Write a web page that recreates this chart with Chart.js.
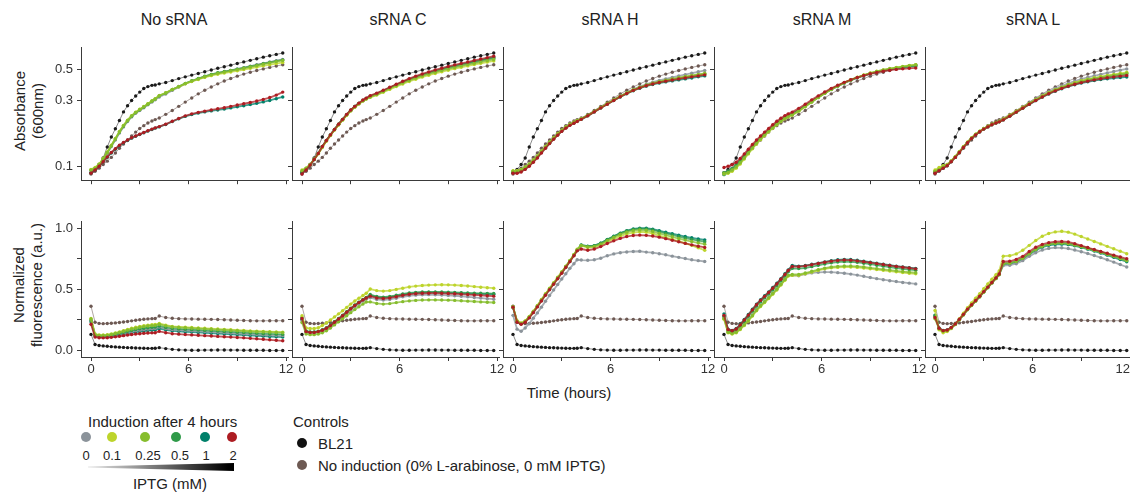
<!DOCTYPE html>
<html>
<head>
<meta charset="utf-8">
<script src="https://cdn.jsdelivr.net/npm/chart.js@4.4.1/dist/chart.umd.min.js"></script>
<style>
  html, body { margin: 0; padding: 0; width: 1130px; height: 492px; overflow: hidden; background: #fff; }
  body { position: relative; font-family: "Liberation Sans", Arial, sans-serif; color: #222; }
  canvas { position: absolute; }
  .t { position: absolute; white-space: nowrap; }
  .title { font-size: 16px; line-height: 16px; transform: translateX(-50%); }
  .ytitle { font-size: 15px; line-height: 18px; text-align: center; transform: translate(-50%, -50%) rotate(-90deg); }
  .lg { font-size: 15px; line-height: 15px; }
  .lv { font-size: 13px; line-height: 13px; transform: translateX(-50%); }
  .dot { position: absolute; width: 10px; height: 10px; border-radius: 50%; }
  .wedge { position: absolute; left: 88px; top: 463px; width: 146px; height: 8px;
           background: linear-gradient(to right, #e6e6e6, #000 96%);
           clip-path: polygon(0 44%, 100% 0, 100% 100%, 0 56%); }
</style>
</head>
<body>

<div class="t title" style="left:174px; top:12px">No sRNA</div>
<div class="t title" style="left:398px; top:12px">sRNA C</div>
<div class="t title" style="left:610px; top:12px">sRNA H</div>
<div class="t title" style="left:822px; top:12px">sRNA M</div>
<div class="t title" style="left:1033px; top:12px">sRNA L</div>

<div class="t ytitle" style="left:29px; top:111px">Absorbance<br>(600nm)</div>
<div class="t ytitle" style="left:28px; top:285px">Normalized<br>fluorescence (a.u.)</div>
<div class="t lg" style="left:569px; top:385px; transform:translateX(-50%)">Time (hours)</div>

<div class="t lg" style="left:88px; top:414px">Induction after 4 hours</div>
<div id="iptgDots"></div>
<div class="wedge"></div>
<div class="t lg" style="left:170px; top:476px; transform:translateX(-50%)">IPTG (mM)</div>

<div class="t lg" style="left:293px; top:414px">Controls</div>
<div class="dot" style="left:297px; top:438px; background:#111"></div>
<div class="t lg" style="left:318px; top:436px">BL21</div>
<div class="dot" style="left:297px; top:460px; background:#6d5953"></div>
<div class="t lg" style="left:318px; top:458px">No induction (0% L-arabinose, 0 mM IPTG)</div>

<script>
// ---- categories ----
const PANELS = ['No sRNA', 'sRNA C', 'sRNA H', 'sRNA M', 'sRNA L'];
const IPTG_LEVELS = ['0', '0.1', '0.25', '0.5', '1', '2'];
const IPTG_COLORS = ['#8b939a', '#bdd42b', '#86bd2d', '#2f9a49', '#00806a', '#ad1c22'];
const BL21_COLOR = '#1a1a1a';
const NOIND_COLOR = '#6d5953';

// ---- axis ticks ----
const X_TICKS = [0, 3, 6, 9, 12];
const X_LABELS = [0, 6, 12];
const OD_TICKS = [0.1, 0.3, 0.5];
const FL_TICKS = [0, 0.25, 0.5, 0.75, 1];
const FL_LABELS = { 0: '0.0', 0.5: '0.5', 1: '1.0' };

// ---- sampling times (hours); induction break between 3.95 h and 4.2 h ----
const TIME_H = [0,.25,.5,.75,1,1.25,1.5,1.75,2,2.25,2.5,2.75,3,3.25,3.5,3.75,3.95,
  4.2,4.6,5,5.4,5.8,6.2,6.6,7,7.4,7.8,8.2,8.6,9,9.4,9.8,10.2,10.6,11,11.4,11.8];

// ---- controls (same strains in every panel) ----
const BL21_OD = [.090,.095,.103,.115,.138,.163,.187,.215,.248,.275,.300,.323,.345,.366,.378,.386,.388,
  .396,.405,.418,.432,.445,.458,.471,.485,.499,.513,.527,.541,.556,.571,.586,.602,.618,.633,.647,.662];
const NOIND_OD = [.088,.092,.097,.103,.109,.116,.125,.135,.145,.155,.166,.177,.188,.197,.206,.213,.218,
  .224,.238,.254,.272,.292,.313,.335,.356,.376,.396,.415,.433,.450,.466,.481,.495,.508,.521,.533,.545];
const BL21_FL = [.132,.050,.042,.038,.035,.032,.030,.028,.026,.024,.023,.021,.020,.019,.018,.018,.019,
  .024,.016,.010,.006,.004,.003,.003,.004,.004,.005,.005,.004,.004,.003,.003,.002,.002,.001,.001,.001];
const NOIND_FL = [.362,.232,.222,.220,.221,.223,.226,.230,.234,.238,.243,.248,.252,.256,.259,.261,.262,
  .282,.270,.264,.261,.259,.258,.257,.256,.255,.254,.252,.250,.248,.246,.244,.243,.243,.244,.244,.244];

// ---- absorbance, one row per IPTG level (0, 0.1, 0.25, 0.5, 1, 2 mM) ----
const OD_NO_SRNA = [
  [.093,.096,.102,.112,.124,.139,.155,.174,.193,.211,.228,.242,.254,.266,.279,.292,.303,.318,.334,.355,.375,.396,.414,.430,.446,.461,.474,.485,.496,.507,.519,.531,.544,.557,.570,.583,.595],
  [.095,.098,.104,.114,.127,.142,.159,.179,.198,.216,.233,.247,.259,.271,.284,.298,.309,.326,.341,.360,.377,.396,.412,.426,.441,.454,.465,.474,.483,.492,.502,.513,.524,.535,.545,.555,.566],
  [.094,.097,.103,.113,.126,.141,.158,.178,.197,.215,.232,.246,.258,.270,.283,.297,.308,.325,.340,.360,.378,.398,.415,.430,.446,.460,.472,.482,.492,.502,.513,.525,.537,.550,.562,.574,.585],
  [.094,.097,.103,.113,.126,.141,.158,.177,.196,.214,.231,.245,.257,.269,.282,.296,.307,.324,.340,.360,.379,.399,.417,.433,.449,.463,.476,.486,.496,.506,.517,.529,.541,.554,.566,.578,.590],
  [.089,.094,.100,.108,.116,.125,.133,.141,.148,.154,.160,.165,.170,.175,.180,.185,.189,.193,.201,.211,.221,.230,.237,.243,.248,.252,.256,.260,.265,.270,.275,.280,.286,.293,.300,.309,.318],
  [.089,.094,.100,.108,.117,.126,.134,.142,.149,.155,.161,.166,.171,.176,.181,.186,.190,.194,.202,.212,.222,.232,.240,.246,.251,.256,.261,.266,.272,.278,.284,.290,.297,.305,.315,.328,.345]
];
const OD_SRNA_C = [
  [.092,.096,.103,.113,.125,.139,.154,.169,.185,.201,.218,.236,.254,.270,.285,.299,.309,.320,.334,.351,.369,.387,.405,.423,.440,.456,.471,.486,.500,.514,.527,.540,.553,.566,.579,.592,.605],
  [.094,.097,.103,.112,.123,.137,.152,.167,.183,.199,.216,.234,.252,.268,.283,.297,.307,.316,.328,.344,.361,.378,.395,.412,.428,.443,.457,.471,.484,.497,.510,.522,.534,.546,.558,.569,.580],
  [.093,.097,.103,.113,.124,.138,.153,.168,.184,.200,.217,.235,.253,.269,.284,.298,.308,.318,.331,.348,.366,.384,.402,.419,.436,.452,.467,.481,.495,.508,.521,.534,.546,.558,.571,.583,.595],
  [.091,.095,.102,.112,.124,.139,.154,.169,.185,.202,.219,.237,.255,.271,.286,.300,.310,.322,.336,.353,.371,.390,.409,.427,.445,.461,.477,.492,.507,.521,.535,.548,.561,.575,.589,.602,.615],
  [.090,.095,.102,.112,.124,.139,.154,.169,.185,.202,.219,.237,.255,.271,.286,.300,.310,.321,.335,.352,.370,.388,.407,.425,.442,.458,.474,.489,.503,.517,.530,.543,.556,.570,.583,.597,.610],
  [.088,.094,.102,.112,.124,.139,.154,.169,.185,.202,.219,.238,.256,.272,.287,.302,.312,.325,.339,.356,.374,.393,.413,.432,.450,.467,.483,.499,.514,.529,.543,.557,.570,.585,.599,.613,.628]
];
const OD_SRNA_H = [
  [.092,.092,.094,.098,.103,.110,.118,.128,.138,.149,.160,.171,.182,.192,.201,.208,.214,.220,.233,.249,.266,.284,.303,.323,.342,.361,.378,.393,.407,.419,.430,.441,.452,.462,.473,.484,.495],
  [.093,.093,.095,.099,.104,.111,.119,.129,.139,.150,.161,.172,.183,.193,.202,.209,.215,.221,.234,.250,.267,.284,.302,.321,.339,.357,.372,.386,.398,.409,.418,.427,.436,.444,.452,.460,.468],
  [.092,.092,.094,.098,.103,.110,.118,.128,.138,.149,.160,.171,.182,.192,.201,.208,.214,.221,.234,.250,.267,.285,.303,.322,.340,.358,.374,.388,.400,.411,.421,.430,.439,.447,.456,.464,.472],
  [.091,.091,.093,.097,.102,.109,.117,.127,.137,.148,.159,.170,.181,.191,.200,.207,.213,.220,.233,.249,.266,.283,.301,.320,.338,.356,.371,.385,.397,.407,.416,.424,.433,.441,.449,.457,.466],
  [.090,.090,.092,.096,.101,.108,.116,.126,.136,.147,.158,.169,.180,.190,.199,.206,.212,.219,.232,.248,.265,.282,.300,.318,.336,.353,.368,.381,.392,.401,.409,.416,.423,.430,.437,.445,.452],
  [.089,.089,.091,.095,.100,.107,.115,.125,.135,.146,.157,.168,.179,.189,.198,.205,.211,.219,.232,.248,.265,.282,.300,.319,.337,.355,.370,.384,.395,.405,.414,.422,.430,.437,.445,.452,.460]
];
const OD_SRNA_M = [
  [.090,.092,.096,.101,.108,.117,.127,.138,.149,.160,.171,.182,.193,.204,.215,.225,.232,.238,.254,.273,.294,.316,.338,.360,.381,.401,.420,.438,.454,.469,.482,.494,.504,.513,.521,.528,.535],
  [.088,.089,.092,.097,.104,.113,.123,.134,.145,.156,.167,.178,.189,.200,.211,.221,.228,.235,.251,.270,.292,.315,.338,.361,.383,.404,.424,.442,.459,.474,.488,.500,.511,.521,.530,.538,.546],
  [.089,.090,.094,.099,.106,.115,.125,.136,.147,.158,.169,.180,.191,.202,.213,.223,.230,.236,.252,.271,.292,.315,.338,.360,.382,.403,.423,.441,.458,.473,.487,.499,.510,.519,.528,.536,.543],
  [.090,.092,.096,.102,.109,.118,.128,.139,.150,.161,.172,.183,.194,.205,.216,.226,.233,.239,.255,.274,.295,.317,.339,.361,.382,.402,.421,.439,.455,.470,.483,.495,.505,.514,.522,.529,.536],
  [.087,.090,.095,.101,.109,.118,.128,.139,.150,.161,.172,.183,.195,.206,.217,.227,.234,.240,.256,.275,.296,.318,.340,.362,.383,.403,.422,.439,.455,.469,.482,.493,.503,.512,.520,.527,.533],
  [.098,.100,.103,.107,.114,.123,.133,.144,.155,.166,.177,.188,.200,.212,.223,.233,.240,.247,.263,.282,.303,.324,.346,.367,.387,.406,.424,.440,.455,.468,.479,.489,.497,.504,.509,.513,.516]
];
const OD_SRNA_L = [
  [.091,.094,.098,.102,.109,.117,.127,.138,.149,.160,.170,.179,.187,.194,.201,.207,.211,.219,.234,.251,.269,.288,.308,.328,.347,.366,.383,.399,.414,.428,.441,.453,.464,.475,.486,.497,.508],
  [.094,.098,.101,.103,.110,.118,.128,.139,.150,.161,.171,.180,.188,.195,.202,.208,.212,.220,.235,.251,.268,.286,.305,.324,.342,.359,.375,.390,.404,.417,.428,.438,.447,.456,.464,.472,.480],
  [.092,.095,.099,.102,.109,.117,.127,.138,.149,.160,.170,.179,.187,.194,.201,.207,.211,.218,.232,.248,.265,.284,.303,.322,.340,.357,.373,.388,.401,.413,.424,.433,.442,.450,.458,.465,.472],
  [.092,.095,.099,.102,.109,.117,.127,.138,.149,.160,.170,.179,.187,.194,.201,.207,.211,.218,.232,.248,.265,.283,.302,.321,.339,.356,.372,.386,.399,.411,.421,.430,.438,.446,.453,.460,.467],
  [.090,.093,.097,.101,.108,.116,.126,.137,.148,.159,.169,.178,.186,.193,.200,.206,.210,.217,.231,.246,.263,.281,.299,.317,.334,.350,.365,.378,.390,.401,.410,.418,.425,.431,.436,.440,.444],
  [.089,.093,.097,.101,.108,.116,.126,.137,.148,.159,.169,.178,.186,.193,.200,.206,.210,.217,.231,.247,.264,.282,.300,.318,.336,.352,.367,.381,.393,.404,.414,.423,.431,.438,.444,.450,.455]
];

// ---- normalized fluorescence, one row per IPTG level ----
const FL_NO_SRNA = [
  [.245,.124,.117,.116,.118,.122,.128,.135,.142,.149,.156,.162,.167,.172,.176,.179,.181,.192,.180,.172,.168,.165,.162,.159,.156,.153,.150,.147,.144,.141,.138,.135,.132,.129,.127,.125,.123],
  [.262,.135,.128,.127,.130,.136,.144,.153,.163,.173,.182,.190,.197,.203,.208,.211,.213,.222,.208,.198,.194,.191,.188,.185,.182,.179,.176,.173,.170,.167,.164,.161,.159,.157,.155,.153,.151],
  [.258,.130,.124,.123,.126,.132,.140,.149,.158,.167,.176,.183,.190,.196,.201,.204,.206,.215,.202,.193,.189,.186,.183,.180,.177,.174,.171,.168,.165,.162,.159,.156,.154,.152,.150,.148,.146],
  [.250,.126,.120,.119,.121,.126,.133,.141,.149,.157,.165,.172,.178,.183,.187,.190,.192,.201,.189,.181,.177,.174,.171,.168,.165,.162,.159,.156,.153,.150,.147,.144,.141,.138,.136,.134,.132],
  [.236,.120,.113,.112,.113,.117,.122,.128,.134,.140,.146,.151,.156,.160,.164,.167,.169,.180,.169,.161,.157,.154,.151,.148,.145,.142,.139,.136,.133,.130,.127,.124,.121,.118,.115,.112,.110],
  [.215,.110,.105,.104,.105,.108,.112,.117,.122,.127,.131,.135,.138,.141,.143,.145,.146,.157,.146,.138,.134,.131,.128,.125,.122,.119,.116,.113,.110,.107,.104,.100,.096,.092,.088,.084,.080]
];
const FL_SRNA_C = [
  [.245,.150,.143,.143,.148,.159,.175,.197,.223,.249,.276,.304,.333,.359,.383,.405,.421,.432,.418,.413,.418,.428,.440,.448,.453,.456,.457,.456,.454,.451,.448,.444,.439,.434,.429,.424,.420],
  [.285,.185,.180,.180,.186,.205,.226,.250,.275,.300,.326,.353,.380,.405,.428,.450,.468,.503,.490,.486,.490,.500,.510,.520,.527,.532,.535,.537,.538,.537,.535,.532,.528,.523,.518,.514,.510],
  [.230,.135,.130,.130,.135,.146,.162,.184,.210,.235,.260,.285,.310,.335,.358,.380,.397,.398,.385,.380,.384,.392,.400,.406,.410,.413,.414,.414,.413,.412,.410,.407,.404,.401,.398,.395,.393],
  [.270,.160,.153,.153,.158,.170,.186,.209,.236,.262,.289,.317,.346,.372,.396,.418,.434,.458,.442,.437,.442,.452,.463,.471,.476,.479,.480,.480,.479,.477,.475,.473,.471,.469,.468,.467,.466],
  [.255,.157,.150,.150,.155,.167,.183,.206,.233,.259,.286,.314,.343,.369,.393,.415,.431,.452,.437,.432,.437,.447,.458,.466,.471,.474,.475,.475,.474,.472,.470,.468,.466,.464,.463,.462,.461],
  [.262,.155,.148,.148,.155,.166,.182,.205,.232,.258,.285,.313,.342,.368,.392,.414,.430,.445,.430,.425,.430,.440,.452,.460,.465,.468,.469,.469,.468,.466,.464,.461,.458,.455,.451,.448,.445]
];
const FL_SRNA_H = [
  [.288,.175,.158,.185,.220,.265,.308,.355,.403,.450,.495,.540,.585,.628,.672,.710,.742,.740,.738,.742,.755,.775,.790,.800,.806,.810,.812,.805,.800,.792,.783,.772,.762,.752,.742,.735,.728],
  [.355,.245,.225,.243,.279,.322,.369,.417,.464,.509,.554,.599,.644,.690,.737,.785,.828,.858,.842,.845,.862,.888,.912,.935,.953,.965,.970,.968,.957,.940,.925,.910,.895,.878,.860,.840,.820],
  [.360,.240,.222,.240,.275,.318,.365,.413,.460,.505,.550,.595,.640,.688,.735,.783,.825,.860,.848,.852,.870,.898,.925,.950,.968,.980,.985,.983,.973,.958,.944,.930,.916,.903,.891,.880,.870],
  [.358,.238,.220,.238,.273,.316,.363,.411,.458,.503,.548,.593,.638,.686,.733,.781,.823,.862,.852,.857,.877,.907,.933,.958,.977,.990,.996,.995,.986,.972,.958,.945,.932,.920,.909,.899,.890],
  [.350,.235,.218,.236,.271,.314,.361,.409,.456,.501,.546,.591,.636,.684,.731,.779,.821,.863,.853,.858,.878,.908,.935,.960,.980,.994,1.00,1.00,.992,.980,.967,.955,.943,.932,.922,.913,.905],
  [.355,.232,.215,.232,.267,.310,.357,.405,.452,.497,.542,.587,.632,.680,.727,.775,.815,.830,.820,.830,.850,.875,.897,.917,.932,.941,.944,.942,.936,.927,.915,.902,.889,.876,.864,.853,.843]
];
const FL_SRNA_M = [
  [.270,.155,.145,.155,.182,.215,.252,.292,.334,.369,.401,.434,.468,.503,.541,.580,.613,.615,.612,.625,.635,.640,.642,.641,.637,.632,.625,.617,.607,.597,.588,.579,.571,.564,.557,.551,.545],
  [.257,.145,.135,.145,.172,.205,.242,.282,.325,.360,.392,.425,.460,.495,.535,.575,.610,.615,.615,.628,.642,.656,.668,.676,.680,.683,.683,.680,.675,.668,.662,.656,.650,.644,.638,.632,.627],
  [.262,.150,.140,.150,.177,.210,.247,.287,.330,.366,.398,.431,.466,.501,.541,.581,.615,.622,.622,.634,.648,.662,.674,.683,.688,.691,.691,.688,.683,.676,.670,.664,.658,.652,.646,.641,.636],
  [.280,.165,.155,.168,.202,.240,.280,.322,.363,.398,.431,.463,.497,.532,.570,.610,.643,.672,.670,.675,.686,.697,.708,.717,.724,.727,.726,.721,.714,.706,.698,.690,.682,.675,.668,.662,.657],
  [.300,.175,.165,.180,.215,.255,.295,.338,.380,.415,.448,.480,.515,.550,.588,.628,.660,.695,.690,.695,.705,.715,.725,.735,.742,.745,.744,.738,.730,.722,.714,.706,.698,.690,.684,.678,.672],
  [.288,.172,.162,.176,.210,.250,.290,.333,.375,.410,.443,.475,.510,.545,.583,.622,.655,.688,.686,.692,.702,.712,.722,.731,.737,.740,.739,.733,.726,.719,.711,.703,.695,.688,.681,.675,.668]
];
const FL_SRNA_L = [
  [.280,.180,.160,.165,.185,.215,.252,.292,.335,.370,.405,.440,.478,.515,.553,.590,.622,.695,.698,.710,.735,.770,.800,.822,.835,.842,.840,.834,.822,.808,.793,.777,.760,.742,.723,.703,.683],
  [.327,.170,.145,.155,.180,.215,.260,.305,.350,.390,.428,.465,.505,.545,.583,.620,.650,.772,.775,.790,.820,.860,.900,.935,.957,.970,.975,.968,.952,.932,.912,.892,.872,.852,.832,.812,.792],
  [.260,.178,.158,.163,.183,.213,.250,.290,.333,.368,.403,.438,.476,.513,.551,.588,.620,.710,.714,.728,.755,.792,.826,.852,.868,.876,.878,.873,.862,.848,.834,.819,.803,.787,.770,.752,.734],
  [.285,.182,.162,.167,.187,.217,.254,.294,.337,.372,.407,.442,.480,.517,.555,.592,.624,.712,.716,.730,.756,.794,.829,.855,.870,.878,.880,.876,.866,.852,.838,.822,.806,.790,.773,.755,.737],
  [.290,.185,.164,.168,.188,.218,.255,.295,.338,.373,.408,.443,.481,.518,.556,.593,.625,.705,.708,.722,.748,.786,.820,.845,.860,.868,.870,.866,.856,.843,.829,.813,.797,.780,.762,.744,.726],
  [.270,.183,.163,.168,.188,.218,.256,.296,.339,.374,.409,.444,.482,.519,.557,.594,.626,.728,.730,.745,.770,.810,.845,.868,.882,.890,.892,.888,.874,.858,.842,.826,.810,.795,.780,.765,.750]
];

const OD_BY_PANEL = [OD_NO_SRNA, OD_SRNA_C, OD_SRNA_H, OD_SRNA_M, OD_SRNA_L];
const FL_BY_PANEL = [FL_NO_SRNA, FL_SRNA_C, FL_SRNA_H, FL_SRNA_M, FL_SRNA_L];

// ---- layout ----
const FONT = "'Liberation Sans', Arial, sans-serif";
const AXIS_COLOR = '#3a3a3a';
const TICK_COLOR = '#333';
const PLOT_LEFT = [81, 292, 503, 714, 925];
const PX_PER_HOUR = 16.25;
const PLOT_W = 207;
const X_MIN = -10 / PX_PER_HOUR;
const X_MAX = X_MIN + PLOT_W / PX_PER_HOUR;
const GUTTER = 40, PAD_TOP = 6, PAD_RIGHT = 14;
// stacking: lower number is drawn on top (0.1, 0.25, 0, 0.5, 1, 2 mM)
const SERIES_ORDER = [5, 3, 2, 4, 6, 1];
const LAST = PANELS.length - 1;

const ROWS = [
  { top: 42, height: 140, xh: 10, showX: false, type: 'logarithmic', min: 0.0793, max: 0.7225,
    ticks: OD_TICKS, label: (v, p) => p === 0 ? String(v) : '', controls: [BL21_OD, NOIND_OD], panels: OD_BY_PANEL },
  { top: 216, height: 141, xh: 24, showX: true, type: 'linear', min: -0.0526, max: 1.0526,
    ticks: FL_TICKS, label: (v, p) => p === 0 && FL_LABELS[v] !== undefined ? FL_LABELS[v] : '', controls: [BL21_FL, NOIND_FL], panels: FL_BY_PANEL }
];

function hexA(hex, a) {
  const n = parseInt(hex.slice(1), 16);
  return `rgba(${n >> 16},${(n >> 8) & 255},${n & 255},${a})`;
}

function series(values, dotColor, lineColor, lineWidth, order) {
  return {
    data: values.map((v, i) => ({ x: TIME_H[i], y: v })),
    borderColor: lineColor,
    borderWidth: lineWidth,
    pointRadius: 1.7,
    pointHoverRadius: 0,
    pointBorderWidth: 0,
    pointBackgroundColor: dotColor,
    tension: 0,
    fill: false,
    order
  };
}

// IPTG legend dots
const dotX = [86, 112, 145, 176, 205, 232];
const labX = [86, 112, 148, 180, 206, 233];
const holder = document.getElementById('iptgDots');
IPTG_LEVELS.forEach((lvl, i) => {
  const d = document.createElement('div');
  d.className = 'dot';
  d.style.left = (dotX[i] - 5) + 'px';
  d.style.top = '432px';
  d.style.background = IPTG_COLORS[i];
  holder.appendChild(d);
  const t = document.createElement('div');
  t.className = 't lv';
  t.style.left = labX[i] + 'px';
  t.style.top = '449px';
  t.textContent = lvl;
  holder.appendChild(t);
});

ROWS.forEach(row => {
  PANELS.forEach((name, p) => {
    const cv = document.createElement('canvas');
    const w = GUTTER + PLOT_W + PAD_RIGHT;
    const h = PAD_TOP + row.height + row.xh;
    cv.width = w; cv.height = h;
    cv.style.width = w + 'px'; cv.style.height = h + 'px';
    cv.style.left = (PLOT_LEFT[p] - GUTTER) + 'px';
    cv.style.top = (row.top - PAD_TOP) + 'px';
    document.body.appendChild(cv);

    const datasets = [];
    row.panels[p].forEach((vals, i) => {
      datasets.push(series(vals, IPTG_COLORS[i], hexA(IPTG_COLORS[i], 0.75), 1.8, SERIES_ORDER[i]));
    });
    datasets.push(series(row.controls[0], BL21_COLOR, '#8a8a8a', 1, 7));
    datasets.push(series(row.controls[1], NOIND_COLOR, hexA(NOIND_COLOR, 0.55), 1, 8));

    // the right-most panel sits at the page edge: its last time label is kept inside
    const edge = p === LAST;
    const xTicks = edge ? [X_MIN].concat(X_TICKS) : X_TICKS;

    new Chart(cv, {
      type: 'line',
      data: { datasets },
      options: {
        responsive: false,
        animation: false,
        devicePixelRatio: 1,
        events: [],
        layout: { padding: { top: PAD_TOP, right: PAD_RIGHT, left: 0, bottom: 0 }, autoPadding: false },
        plugins: { legend: { display: false }, tooltip: { enabled: false } },
        scales: {
          x: {
            type: 'linear', min: X_MIN, max: X_MAX, offset: false,
            border: { display: true, color: AXIS_COLOR, width: 1 },
            grid: {
              display: true, drawOnChartArea: false, drawTicks: true, tickLength: 4,
              color: ctx => (ctx.tick && ctx.tick.value === X_MIN) ? 'rgba(0,0,0,0)' : AXIS_COLOR
            },
            ticks: {
              autoSkip: false, maxRotation: 0, padding: 1, color: TICK_COLOR,
              align: edge ? 'inner' : 'center',
              font: { family: FONT, size: 13 },
              callback: v => (row.showX && X_LABELS.includes(v)) ? String(v) : ''
            },
            afterBuildTicks: s => { s.ticks = xTicks.map(v => ({ value: v })); },
            afterFit: s => { s.height = row.xh; }
          },
          y: {
            type: row.type, min: row.min, max: row.max,
            border: { display: true, color: AXIS_COLOR, width: 1 },
            grid: { display: true, drawOnChartArea: false, drawTicks: true, tickLength: 4, color: AXIS_COLOR },
            ticks: {
              autoSkip: false, padding: 4, color: TICK_COLOR,
              font: { family: FONT, size: 13 },
              callback: v => row.label(v, p)
            },
            afterBuildTicks: s => { s.ticks = row.ticks.map(v => ({ value: v })); },
            afterFit: s => { s.width = GUTTER; }
          }
        }
      }
    });
  });
});
</script>
</body>
</html>
